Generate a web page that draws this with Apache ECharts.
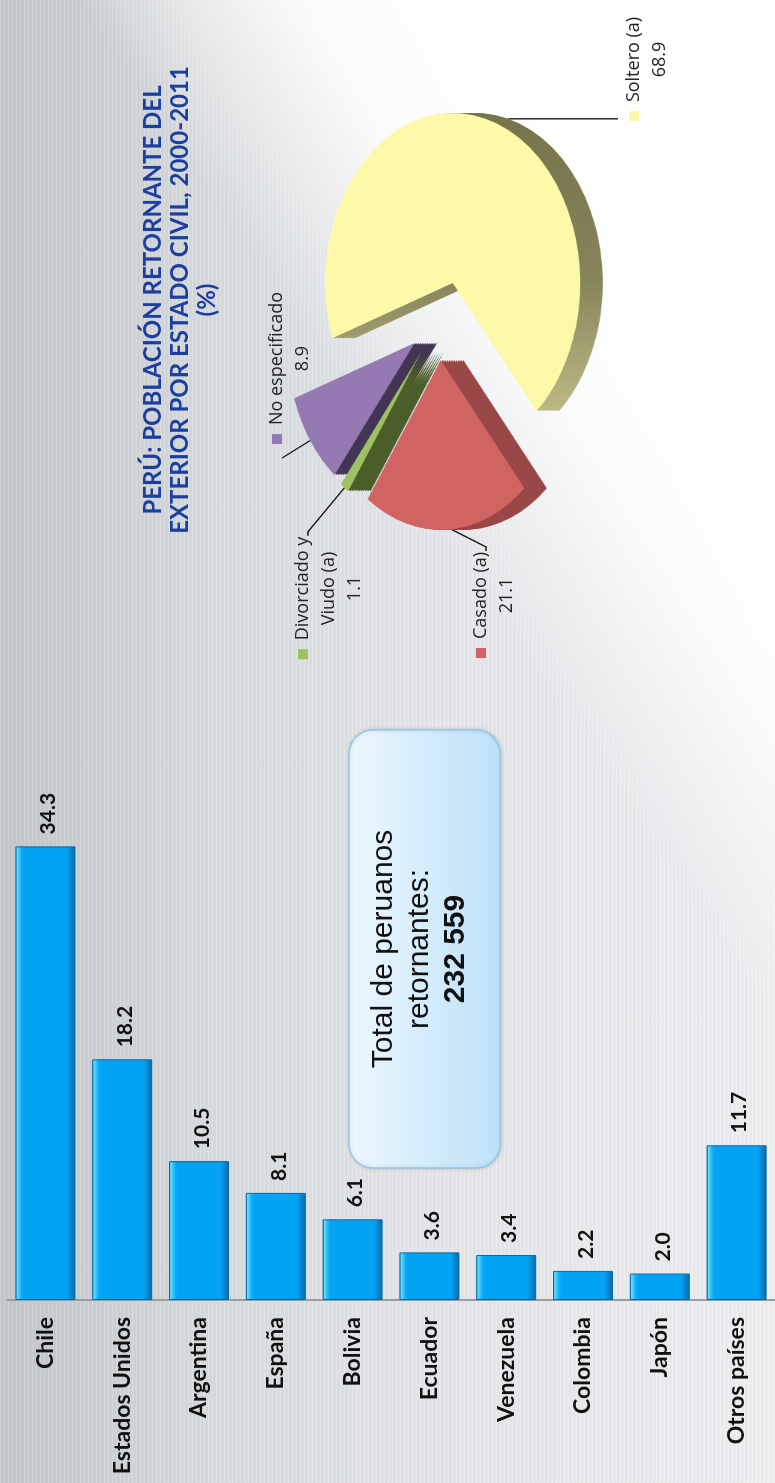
<!DOCTYPE html>
<html>
<head>
<meta charset="utf-8">
<title>Perú: población retornante</title>
<script src="https://cdn.jsdelivr.net/npm/echarts@6/dist/echarts.min.js"></script>
<style>
html, body { margin: 0; padding: 0; width: 775px; height: 1483px; overflow: hidden; background: #e4e6e8; }
/* the slide is laid out in landscape and turned a quarter turn */
#main {
  position: absolute; left: 0; top: 0;
  width: 1483px; height: 775px;
  transform-origin: 0 0;
  transform: translateY(1483px) rotate(-90deg);
  background:
    linear-gradient(145.8deg, rgba(255,255,255,0) 61%, rgba(255,255,255,0.85) 73%, #ffffff 86%),
    repeating-linear-gradient(to bottom, rgba(255,255,255,0.12) 0px, rgba(255,255,255,0.12) 1px, rgba(110,115,120,0.05) 2px, rgba(255,255,255,0) 4px),
    linear-gradient(to bottom, #c2c5c9 0%, #d6d9dc 25%, #e3e5e8 55%, #eceef0 100%);
}
#chart { position: absolute; left: 0; top: 0; width: 1483px; height: 775px; }
/* the pie is drawn flattened to give the tilted 3-D look */
#pie {
  position: absolute; left: 0; top: 0; width: 1483px; height: 775px;
  transform-origin: 0 455px; transform: scaleY(0.75);
}
</style>
</head>
<body>
<div id="main"><div id="chart"></div><div id="pie"></div></div>
<script>
// bar chart: % of returning Peruvians by country of origin
const countries = ['Chile', 'Estados Unidos', 'Argentina', 'España', 'Bolivia', 'Ecuador', 'Venezuela', 'Colombia', 'Japón', 'Otros países'];
const shares = [34.3, 18.2, 10.5, 8.1, 6.1, 3.6, 3.4, 2.2, 2.0, 11.7];

// pie: civil status
const civilStatus = ['Soltero (a)', 'Casado (a)', 'Divorciado y\nViudo (a)', 'No especificado'];
const civilShares = [68.9, 21.1, 1.1, 8.9];

const titleLines = ['PERÚ: POBLACIÓN RETORNANTE DEL', 'EXTERIOR POR ESTADO CIVIL, 2000-2011', '(%)'];
const totalLines = ['Total de peruanos', 'retornantes:', '232 559'];

const faceColors = ['#fdf9a9', '#cf6462', '#9dc163', '#9479b3'];
const sideColors = [
  { type: 'linear', x: 0, y: 0, x2: 1, y2: 0, colorStops: [{ offset: 0, color: '#bdb986' }, { offset: 0.45, color: '#86835a' }, { offset: 1, color: '#76744a' }] },
  '#9a4747', '#4b5e2a', '#433553'
];
// top-centre of each pie label block (slide coordinates)
const labelSpots = [[1414, 621], [878, 468], [885, 290], [1115, 264]];

const squash = 0.75, squashY = 455; // must match the #pie css
const pieCenter = [1200, 452];
const pieRadius = 170;
const startAngle = 109;
const depth = 30;
const pull = [-37, -18];  // the small slices are pulled out together...
const pullOut = 40;       // ...and a bit more along their own bisector

const chart = echarts.init(document.getElementById('chart'));
const pieChart = echarts.init(document.getElementById('pie'));

const barColor = {
  type: 'linear', x: 0, y: 0, x2: 0, y2: 1,
  colorStops: [
    { offset: 0, color: '#0e8fd6' },
    { offset: 0.03, color: '#66ddff' },
    { offset: 0.09, color: '#19b3f7' },
    { offset: 0.14, color: '#02a3f2' },
    { offset: 0.86, color: '#02a3f2' },
    { offset: 0.92, color: '#0a86cf' },
    { offset: 1, color: '#0b69a6' }
  ]
};

// how far each slice is pulled out of the pie
const total = civilShares.reduce(function (a, b) { return a + b; }, 0);
const midAngles = [];
let acc = 0;
const sliceShift = civilShares.map(function (v, i) {
  const mid = (startAngle - 360 * (acc + v / 2) / total) * Math.PI / 180;
  acc += v;
  midAngles.push(mid);
  if (i === 0) return [0, 0];
  return [pull[0] + pullOut * Math.cos(mid), pull[1] - pullOut * Math.sin(mid)];
});

// one slice of one layer (the sides are stacked copies under the face)
function pieLayer(k, dy, colors) {
  return {
    type: 'pie', radius: pieRadius, startAngle: startAngle, clockwise: true,
    center: [pieCenter[0] + sliceShift[k][0], pieCenter[1] + sliceShift[k][1] + dy],
    silent: true, label: { show: false }, labelLine: { show: false },
    data: civilStatus.map(function (n, i) {
      return { name: n, value: civilShares[i], itemStyle: { color: i === k ? colors[i] : 'rgba(0,0,0,0)' } };
    })
  };
}

const pieSeries = [];
for (let dy = depth; dy > 0; dy -= 3) {
  civilStatus.forEach(function (n, k) { pieSeries.push(pieLayer(k, dy, sideColors)); });
}
civilStatus.forEach(function (n, k) { pieSeries.push(pieLayer(k, 0, faceColors)); });

pieChart.setOption({ animation: false, series: pieSeries });

// labels with legend keys and their leader lines, on the unflattened slide
function toSlide(x, y) { return [x, squashY + (y - squashY) * squash]; }
function edgePoint(i) {
  const m = midAngles[i];
  const cx = pieCenter[0] + sliceShift[i][0];
  const cy = pieCenter[1] + sliceShift[i][1];
  const down = depth * Math.min(1, Math.max(0, -Math.sin(m) * 4));
  return toSlide(cx + pieRadius * Math.cos(m), cy - pieRadius * Math.sin(m) + down);
}

const rich = {
  t: { fontFamily: 'Open Sans', fontSize: 18, fill: '#222', lineHeight: 26, padding: [0, 0, 0, 9] },
  p: { fontFamily: 'Open Sans', fontSize: 18, fill: '#222', lineHeight: 26, padding: [0, 0, 0, 19] }
};
faceColors.forEach(function (c, i) {
  rich['k' + i] = { width: 10, height: 10, backgroundColor: c };
});

const measure = document.createElement('canvas').getContext('2d');
measure.font = '18px "Open Sans"';
const labelGraphics = [];
civilStatus.forEach(function (name, i) {
  const lines = name.split('\n');
  const spot = labelSpots[i];
  let text = '{k' + i + '|}{t|' + lines[0] + '}';
  for (let j = 1; j < lines.length; j++) text += '\n{p|' + lines[j] + '}';
  text += '\n{p|' + civilShares[i].toFixed(1) + '}';
  labelGraphics.push({
    type: 'text', x: spot[0], y: spot[1],
    style: { text: text, textAlign: 'center', textVerticalAlign: 'top', rich: rich }
  });

  const w1 = 19 + measure.measureText(lines[0]).width;
  const left1 = spot[0] - w1 / 2, right1 = spot[0] + w1 / 2;
  const lineY = spot[1] + 18;
  const e = edgePoint(i);
  let pts;
  if (e[0] > right1) pts = [e, [right1 + 5, lineY], [right1 + 1, lineY]];
  else if (e[0] < left1) pts = [e, [left1 - 5, lineY], [left1 - 1, lineY]];
  else if (e[1] < spot[1]) pts = [e, [e[0], spot[1] - 3]];
  else pts = [e, [left1 - 14, lineY]];
  labelGraphics.push({
    type: 'polyline', shape: { points: pts },
    style: { stroke: '#111', lineWidth: 1.3, fill: null }
  });
});

chart.setOption({
  animation: false,
  grid: { left: 183, top: 7, width: 529, height: 778 },
  xAxis: { type: 'value', min: 0, max: 40, show: false },
  yAxis: {
    type: 'category', inverse: true, data: countries,
    axisLine: { lineStyle: { color: '#9a9da0', width: 2 } },
    axisTick: { show: false },
    axisLabel: { margin: 17, fontFamily: 'Lato', fontWeight: 'bold', fontSize: 23, color: '#111' }
  },
  graphic: [
    {
      type: 'text', x: 1183, y: 140,
      style: {
        text: titleLines.join('\n'), textAlign: 'center', textVerticalAlign: 'top',
        font: 'bold 24px Lato', lineHeight: 27, fill: '#1c3f9f'
      }
    },
    {
      type: 'rect',
      shape: { x: 315, y: 349, width: 438, height: 151, r: 24 },
      style: {
        fill: { type: 'linear', x: 0, y: 0, x2: 0, y2: 1, colorStops: [{ offset: 0, color: '#edf7fe' }, { offset: 1, color: '#bde2f8' }] },
        stroke: '#94c6e6', lineWidth: 1.5,
        shadowBlur: 4, shadowColor: 'rgba(0,0,0,0.15)', shadowOffsetY: 1
      }
    },
    {
      type: 'text', x: 534, y: 420,
      style: {
        text: '{a|' + totalLines[0] + '}\n{a|' + totalLines[1] + '}\n{b|' + totalLines[2] + '}',
        textAlign: 'center', textVerticalAlign: 'middle',
        rich: {
          a: { fontFamily: 'Liberation Sans', fontSize: 30, lineHeight: 36, fill: '#111' },
          b: { fontFamily: 'Liberation Sans', fontSize: 30, fontWeight: 'bold', lineHeight: 36, fill: '#111' }
        }
      }
    }
  ].concat(labelGraphics),
  series: [
    {
      type: 'bar', data: shares, barWidth: 60,
      itemStyle: { color: barColor, borderColor: '#0b679f', borderWidth: 1 },
      label: {
        show: true, position: 'right', distance: 12, offset: [0, 3],
        formatter: function (p) { return p.value.toFixed(1); },
        fontFamily: 'Lato', fontWeight: 'bold', fontSize: 21, color: '#111'
      }
    }
  ]
});
</script>
</body>
</html>
